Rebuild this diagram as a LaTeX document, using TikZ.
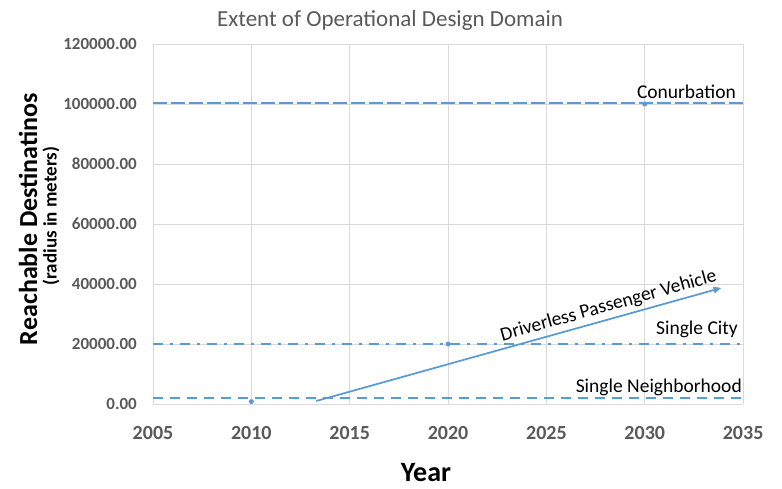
\documentclass[tikz,border=0pt]{standalone}
\usepackage{fontspec}
\setmainfont{Carlito}
\usetikzlibrary{arrows.meta}
\definecolor{seriesblue}{HTML}{5B9BD5}
\definecolor{gridgray}{HTML}{D9D9D9}
\definecolor{axisgray}{HTML}{595959}

\begin{document}
\begin{tikzpicture}[
  x=1pt,y=-1pt,
  charttitle/.style={font=\fontsize{23}{27}\selectfont,text=axisgray},
  ytick/.style={font=\fontsize{17}{20}\selectfont\bfseries,text=axisgray,anchor=east,inner sep=0pt},
  xtick/.style={font=\fontsize{20}{24}\selectfont\bfseries,text=axisgray,anchor=north,inner sep=0pt},
  axtitle/.style={font=\fontsize{26}{30}\selectfont\bfseries,inner sep=0pt},
  xaxtitle/.style={font=\fontsize{28}{32}\selectfont\bfseries,inner sep=0pt},
  axsub/.style={font=\fontsize{19}{22}\selectfont\bfseries,inner sep=0pt},
  serlabel/.style={font=\fontsize{19.5}{23}\selectfont,inner sep=0pt,anchor=base east},
  gridline/.style={draw=gridgray,line width=0.75pt},
  seriesline/.style={draw=seriesblue,line width=2.4pt},
  longdash/.style={seriesline,dash pattern=on 14pt off 4pt},
  dashline/.style={seriesline,dash pattern=on 10pt off 7pt},
  dashdotline/.style={seriesline,dash pattern=on 10pt off 7pt on 3pt off 7pt},
  marker/.style={circle,fill=seriesblue,inner sep=0pt,minimum size=5pt},
  arr/.style={seriesline,line width=1.75pt,-{Triangle[length=8pt,width=6.5pt]}},
]
\useasboundingbox (0,0) rectangle (782,489);

% ---- Title ------------------------------------------------------------------
\node[charttitle] (title) at (390,20) {Extent of Operational Design Domain};

% ---- Plot area (years from 2005, values in thousands) -----------------------
\begin{scope}[shift={(153,404)},x=19.67pt,y=3pt]

  % grid
  \foreach \v in {0,20,...,120}{
    \draw[gridline] (0,\v) -- (30,\v);
  }
  \foreach \t in {0,5,...,30}{
    \draw[gridline] (\t,0) -- (\t,120);
  }

  % tick labels
  \foreach \v/\lab in {0/0.00,20/20000.00,40/40000.00,60/60000.00,
                       80/80000.00,100/100000.00,120/120000.00}{
    \node[ytick,xshift=-16pt] (y\v) at (0,\v) {\lab};
  }
  \foreach \t/\yr in {0/2005,5/2010,10/2015,15/2020,20/2025,25/2030,30/2035}{
    \node[xtick,yshift=-22pt] (x\yr) at (\t,0) {\yr};
  }

  % ---- Series -----------------------------------------------------------------
  \draw[longdash] (0,100.3) coordinate (conL) -- (30,100.3) coordinate (conR);
  \node[marker] (conpt) at (25,100) {};

  \draw[dashdotline] (0,20) coordinate (cityL) -- (30,20) coordinate (cityR);
  \node[marker] (citypt) at (15,20) {};

  \draw[dashline] (0,2) coordinate (nbhL) -- (30,2) coordinate (nbhR);
  \node[marker] (nbhpt) at (5,0.8) {};

  \coordinate (dpvS) at (8.3,1);
  \coordinate (dpvE) at (28.9,38.7);
  \draw[arr] (dpvS) -- (dpvE)
    node[pos=0.73,sloped,above,inner sep=3.5pt,font=\fontsize{19.5}{23}\selectfont,text=black]
    (dpvlbl) {Driverless Passenger Vehicle};
\end{scope}

% ---- Series labels ------------------------------------------------------------
\node[serlabel] (conlbl)  at (736,99)  {Conurbation};
\node[serlabel] (citylbl) at (738,334) {Single City};
\node[serlabel] (nbhlbl)  at (742,392) {Single Neighborhood};

% ---- Axis titles --------------------------------------------------------------
\node[axtitle,rotate=90] (ytitle) at (28,219) {Reachable Destinatinos};
\node[axsub,rotate=90]   (ysub)   at (51,216) {(radius in meters)};
\node[xaxtitle,anchor=base] (xtitle) at (426,481) {Year};

\end{tikzpicture}
\end{document}
